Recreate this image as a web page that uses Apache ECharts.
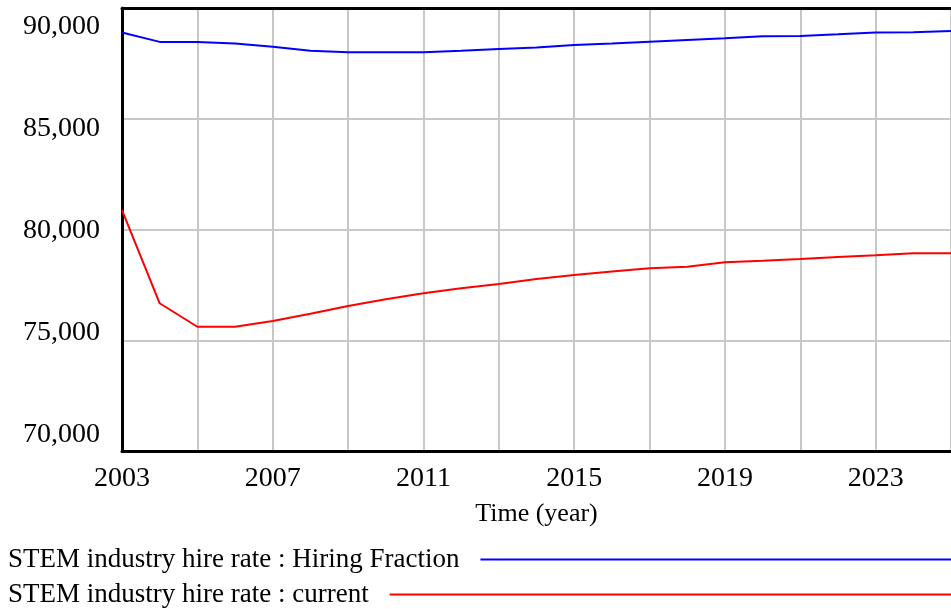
<!DOCTYPE html>
<html>
<head>
<meta charset="utf-8">
<script src="https://cdn.jsdelivr.net/npm/echarts@6/dist/echarts.min.js"></script>
<style>
  html, body { margin: 0; padding: 0; background: #fff; }
  #chart { width: 951px; height: 609px; }
</style>
</head>
<body>
<div id="chart"></div>
<script>
// values (one point per year)
var years = [2003, 2004, 2005, 2006, 2007, 2008, 2009, 2010, 2011, 2012, 2013, 2014,
             2015, 2016, 2017, 2018, 2019, 2020, 2021, 2022, 2023, 2024, 2025];
var hiringFraction = [88890, 88470, 88470, 88400, 88250, 88070, 88000, 88000, 88000, 88070, 88150, 88220,
                      88330, 88400, 88480, 88560, 88630, 88720, 88740, 88810, 88890, 88900, 88960];
var current = [80880, 76670, 75610, 75610, 75870, 76200, 76550, 76850, 77120, 77350, 77540, 77770,
               77950, 78100, 78250, 78320, 78520, 78590, 78670, 78760, 78840, 78930, 78930];
var yTickLabels = ['70,000', '75,000', '80,000', '85,000', '90,000'];
var seriesNames = ['STEM industry hire rate : Hiring Fraction', 'STEM industry hire rate : current'];

var FONT = '"Liberation Serif", "Times New Roman", serif';

function pairs(vals) {
    return years.map(function (y, i) { return [y, vals[i]]; });
}

var chart = echarts.init(document.getElementById('chart'));

var option = {
    animation: false,
    backgroundColor: '#fff',
    color: ['#0000ff', '#ff0000'],
    grid: { left: 122, right: -2, top: 8, bottom: 158, containLabel: false },
    legend: [
        {
            data: [seriesNames[0]],
            left: 3, top: 541,
            align: 'right',
            icon: 'rect',
            itemWidth: 600, itemHeight: 2,
            textStyle: { fontFamily: FONT, fontSize: 27, color: '#000', padding: [0, 16, 0, 0] }
        },
        {
            data: [seriesNames[1]],
            left: 3, top: 576,
            align: 'right',
            icon: 'rect',
            itemWidth: 650, itemHeight: 2,
            textStyle: { fontFamily: FONT, fontSize: 27, color: '#000', padding: [0, 16, 0, 0] }
        }
    ],
    xAxis: [
        {
            type: 'value',
            min: 2003, max: 2025, interval: 2,
            name: 'Time (year)',
            nameLocation: 'middle',
            nameGap: 50,
            nameTextStyle: { fontFamily: FONT, fontSize: 26, color: '#000' },
            axisLine: { show: true, onZero: false, lineStyle: { color: '#000', width: 3 } },
            axisTick: { show: false },
            axisLabel: {
                fontFamily: FONT, fontSize: 28, color: '#000', margin: 14,
                showMaxLabel: false,
                formatter: function (v) { return (v - 2003) % 4 === 0 ? String(v) : ''; }
            },
            splitLine: { show: true, lineStyle: { color: '#c8c8c8', width: 2 } }
        },
        {
            // top frame line only
            type: 'value',
            position: 'top',
            min: 2003, max: 2025, interval: 2,
            axisLine: { show: true, onZero: false, lineStyle: { color: '#000', width: 3 } },
            axisTick: { show: false },
            axisLabel: { show: false },
            splitLine: { show: false }
        }
    ],
    yAxis: [
        {
            type: 'value',
            min: 70000, max: 90000, interval: 5000,
            axisLine: { show: true, onZero: false, lineStyle: { color: '#000', width: 3 } },
            axisTick: { show: false },
            axisLabel: { show: false },
            splitLine: { show: true, lineStyle: { color: '#c8c8c8', width: 2 } }
        },
        {
            // label-only axis: the tick labels are spread a little tighter than the gridlines
            type: 'value',
            position: 'left',
            min: -0.157, max: 4.181,
            axisLine: { show: false, onZero: false },
            axisTick: { show: false },
            splitLine: { show: false },
            axisLabel: {
                fontFamily: FONT, fontSize: 28, color: '#000', margin: 22,
                customValues: [0, 1, 2, 3, 4],
                formatter: function (v) { return yTickLabels[Math.round(v)]; }
            }
        }
    ],
    series: [
        {
            name: seriesNames[0],
            type: 'line',
            symbol: 'none',
            lineStyle: { width: 2, color: '#0000ff' },
            itemStyle: { color: '#0000ff' },
            data: pairs(hiringFraction)
        },
        {
            name: seriesNames[1],
            type: 'line',
            symbol: 'none',
            lineStyle: { width: 2, color: '#ff0000' },
            itemStyle: { color: '#ff0000' },
            data: pairs(current)
        }
    ]
};

chart.setOption(option);
</script>
</body>
</html>
